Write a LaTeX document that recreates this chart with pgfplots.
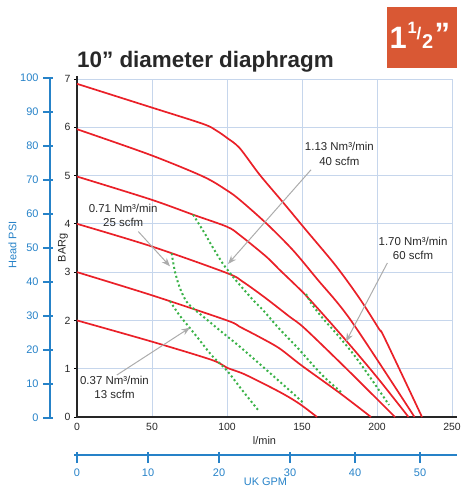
\documentclass[border=0pt]{standalone}
\usepackage{fontspec}
\setmainfont{Liberation Sans}
\usepackage{pgfplots}
\pgfplotsset{compat=1.18}
\usetikzlibrary{arrows.meta}

\definecolor{pumpred}{RGB}{234,32,40}
\definecolor{airgreen}{RGB}{58,178,72}
\definecolor{gridblue}{RGB}{198,214,236}
\definecolor{scaleblue}{RGB}{38,130,200}
\definecolor{badge}{RGB}{217,88,52}
\definecolor{txt}{RGB}{40,40,40}
\definecolor{arrowgray}{RGB}{172,172,172}

\begin{document}
\begin{tikzpicture}[x=1bp,y=1bp]
\path[use as bounding box] (0,0) rectangle (464,488);

% title and size badge
\node[anchor=base west, inner sep=0, text=txt,
      font=\fontsize{22.5}{27}\selectfont\bfseries] at (77,420) {10” diameter diaphragm};
\fill[badge] (387.3,420.3) rectangle (457.3,481.3);
\node[anchor=base west, inner sep=0, text=white, font=\fontsize{31}{31}\selectfont\bfseries] at (389.5,439.7) {1};
\node[anchor=base west, inner sep=0, text=white, font=\fontsize{16.5}{17}\selectfont\bfseries] at (407.5,454.7) {1};
\node[anchor=base west, inner sep=0, text=white, font=\fontsize{17}{17}\selectfont\bfseries] at (416.5,448.5) {/};
\node[anchor=base west, inner sep=0, text=white, font=\fontsize{20}{20}\selectfont\bfseries] at (422,439.7) {2};
\node[anchor=base west, inner sep=0, text=white, font=\fontsize{31}{31}\selectfont\bfseries] at (434.5,443) {”};

% Head PSI scale
\begin{axis}[
    at={(50bp,70bp)}, anchor=south west,
    scale only axis, width=10bp, height=340bp,
    xmin=0, xmax=1, ymin=0, ymax=100,
    axis x line=none, axis y line=left,
    axis line style={-, scaleblue, line width=1.4bp},
    ytick={0,10,...,100},
    tick align=outside, major tick length=10bp,
    ytick style={scaleblue, line width=1.4bp, xshift=3bp},
    yticklabel style={text=scaleblue, font=\fontsize{11}{13}\selectfont, xshift=2bp},
    /pgf/number format/assume math mode=true,
]
\end{axis}
\node[rotate=90, text=scaleblue, font=\fontsize{11}{13}\selectfont] at (12.5,243) {Head PSI};

% UK GPM scale
\begin{axis}[
    at={(77bp,33bp)}, anchor=south west,
    scale only axis, width=380bp, height=10bp,
    xmin=0, xmax=53.5, ymin=0, ymax=1,
    axis y line=none, axis x line=bottom,
    axis line style={-, scaleblue, line width=1.4bp, shorten <=-3bp},
    xtick={0,10,20,30,39.15,48.3},
    xticklabels={0,10,20,30,40,50},
    tick align=outside, major tick length=11bp,
    xtick style={scaleblue, line width=1.4bp, yshift=3bp},
    xticklabel style={text=scaleblue, font=\fontsize{11}{13}\selectfont, yshift=1bp},
    /pgf/number format/assume math mode=true,
]
\end{axis}
\node[text=scaleblue, font=\fontsize{11}{13}\selectfont] at (265.5,6) {UK GPM};

% main chart
\begin{axis}[
    at={(77bp,71bp)}, anchor=south west,
    scale only axis, width=375bp, height=338bp,
    xmin=0, xmax=250, ymin=0, ymax=7,
    xtick={0,50,...,250}, ytick={0,1,...,7},
    axis lines=left,
    axis line style={-, black!85, line width=1.8bp},
    x axis line style={shorten >=-5bp, shorten <=-1bp},
    y axis line style={shorten >=-3bp},
    grid=major, major grid style={gridblue, line width=0.9bp},
    xtick style={draw=none},
    ytick style={black, line width=0.8bp},
    tick align=outside, major tick length=3bp,
    tick label style={text=txt, font=\fontsize{10.5}{12}\selectfont},
    /pgf/number format/assume math mode=true,
    xlabel={l/min}, ylabel={BARg},
    label style={text=txt, font=\fontsize{11}{13}\selectfont},
    xlabel style={at={(axis description cs:0.5,-0.071)}, anchor=center},
    ylabel style={at={(axis description cs:-0.0373,0.5)}, anchor=center},
    clip=false,
]
% pump curves, 7 to 2 bar air
\addplot[pumpred, line width=1.7bp, smooth] coordinates {
 (0,6.9) (48.7,6.42) (84,6.07) (93,5.93) (100,5.78) (108.4,5.57) (121.7,5.02)
 (137.2,4.45) (152.7,3.87) (172.6,3.13) (188.5,2.45) (201.4,1.82) (205,1.64) (230,0)};
\addplot[pumpred, line width=1.7bp, smooth] coordinates {
 (0,5.96) (48.7,5.43) (84.1,4.98) (99.6,4.70) (108.4,4.50) (126.2,4.01)
 (143.8,3.46) (160,2.86) (182.6,2.0) (225,0)};
\addplot[pumpred, line width=1.7bp, smooth] coordinates {
 (0,4.98) (48.7,4.51) (77.4,4.19) (100,3.94) (108.4,3.77) (126.2,3.32)
 (135,3.05) (151.6,2.55) (168.2,1.98) (185,1.38) (201.4,0.77) (221,0)};
\addplot[pumpred, line width=1.7bp, smooth] coordinates {
 (0,4.0) (50,3.53) (100,2.98) (110.6,2.8) (125,2.48) (141.6,2.08)
 (151.6,1.84) (179.3,1.01) (212,0)};
\addplot[pumpred, line width=1.7bp, smooth] coordinates {
 (0,3.0) (50,2.52) (100,2.0) (108.4,1.87) (122,1.65) (135,1.42)
 (150,1.06) (175,0.5) (196,0)};
\addplot[pumpred, line width=1.7bp, smooth] coordinates {
 (0,2.0) (50,1.56) (90,1.18) (100,1.02) (112,0.88) (135,0.52) (148,0.28) (160,0)};

% air consumption lines
\addplot[airgreen, line width=2bp, dash pattern=on 2bp off 2.6bp, smooth] coordinates {
 (62,2.40) (68,2.12) (74,1.89) (81,1.62) (90,1.27) (100,0.96) (110,0.56) (120.6,0.15)};
\addplot[airgreen, line width=2bp, dash pattern=on 2bp off 2.6bp, smooth] coordinates {
 (63.1,3.39) (65.3,3.01) (68.6,2.67) (73,2.39) (78.6,2.22) (84.1,2.08)
 (90.7,1.91) (97.3,1.74) (108.4,1.46) (125,1.01) (145,0.46) (150.5,0.3)};
\addplot[airgreen, line width=2bp, dash pattern=on 2bp off 2.6bp, smooth] coordinates {
 (77.4,4.19) (85.2,3.8) (89.6,3.56) (96.3,3.22) (100,3.06) (106.2,2.82)
 (112.9,2.58) (118.4,2.39) (125,2.18) (133.9,1.86) (142.8,1.57) (148.3,1.39)
 (163.7,0.86) (177,0.49)};
\addplot[airgreen, line width=2bp, dash pattern=on 2bp off 2.6bp, smooth] coordinates {
 (152.7,2.55) (156,2.36) (163.7,2.05) (173.7,1.70) (184.8,1.28) (195.9,0.8) (208,0.25)};

% callouts
\draw[arrowgray, line width=1bp, -{Stealth[length=8.5bp,width=6.5bp]}] (axis cs:40.9,3.84) -- (axis cs:62,3.12);
\draw[arrowgray, line width=1bp, -{Stealth[length=8.5bp,width=6.5bp]}] (axis cs:26.6,0.87) -- (axis cs:75.3,1.85);
\draw[arrowgray, line width=1bp, -{Stealth[length=8.5bp,width=6.5bp]}] (axis cs:156,5.12) -- (axis cs:100.7,3.17);
\draw[arrowgray, line width=1bp, -{Stealth[length=8.5bp,width=6.5bp]}] (axis cs:206.9,3.19) -- (axis cs:179.3,1.56);
\node[align=center, inner sep=0, text=txt, font=\fontsize{11.5}{14.3}\selectfont]
  at (axis cs:30.8,4.18) {0.71 Nm³/min\\25 scfm};
\node[align=center, inner sep=0, text=txt, font=\fontsize{11.5}{14.3}\selectfont]
  at (axis cs:25,0.62) {0.37 Nm³/min\\13 scfm};
\node[align=center, inner sep=0, text=txt, font=\fontsize{11.5}{14.3}\selectfont]
  at (axis cs:174.9,5.45) {1.13 Nm³/min\\40 scfm};
\node[align=center, inner sep=0, text=txt, font=\fontsize{11.5}{14.3}\selectfont]
  at (axis cs:224,3.49) {1.70 Nm³/min\\60 scfm};
\end{axis}
\end{tikzpicture}
\end{document}
